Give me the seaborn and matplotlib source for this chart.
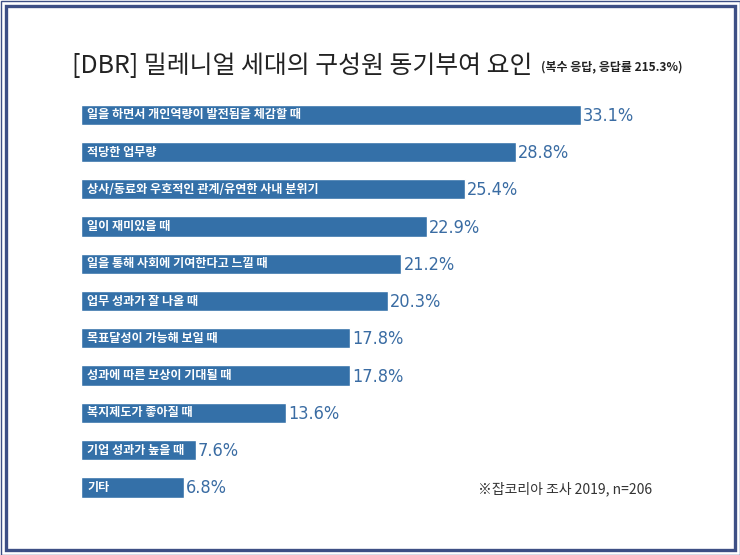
import matplotlib
matplotlib.use("Agg")
import matplotlib.pyplot as plt
from matplotlib.patches import Rectangle
import pandas as pd
import seaborn as sns

# Data
factors = [
    "일을 하면서 개인역량이 발전됨을 체감할 때",
    "적당한 업무량",
    "상사/동료와 우호적인 관계/유연한 사내 분위기",
    "일이 재미있을 때",
    "일을 통해 사회에 기여한다고 느낄 때",
    "업무 성과가 잘 나올 때",
    "목표달성이 가능해 보일 때",
    "성과에 따른 보상이 기대될 때",
    "복지제도가 좋아질 때",
    "기업 성과가 높을 때",
    "기타",
]
shares = [33.1, 28.8, 25.4, 22.9, 21.2, 20.3, 17.8, 17.8, 13.6, 7.6, 6.8]

TITLE = "[DBR] 밀레니얼 세대의 구성원 동기부여 요인"
SUBTITLE = "(복수 응답, 응답률 215.3%)"
SOURCE = "※잡코리아 조사 2019, n=206"

BAR_COLOR = "#3470a8"
VALUE_COLOR = "#3a6ca3"
FRAME_COLOR = "#3d4f85"

sns.set_theme(style="white")
plt.rcParams["font.family"] = ["Noto Sans CJK KR", "DejaVu Sans"]

df = pd.DataFrame({"factor": factors, "share": shares})

W, H = 740, 555
fig = plt.figure(figsize=(W / 100, H / 100), dpi=100)
fig.patch.set_facecolor("white")

# bars start at x=81px, 15.1 px per percent, rows 37.25 px apart
px_per_pct = 15.1
ax = fig.add_axes([81 / W, 0.0885, 1 - 81 / W, 0.7383])
sns.barplot(data=df, y="factor", x="share", orient="h", color=BAR_COLOR,
            saturation=1, width=0.55, ax=ax)
ax.set_xlim(0, (W - 81) / px_per_pct)
ax.set_ylim(len(factors) - 0.5, -0.5)
ax.axis("off")

for i, (name, val) in enumerate(zip(factors, shares)):
    ax.text(0.4, i, name, color="white", fontsize=8.7, fontweight="bold",
            va="center", ha="left")
    ax.text(val + 0.15, i + 0.03, f"{val:.1f}%", color=VALUE_COLOR, fontsize=13,
            va="center", ha="left", family="DejaVu Sans", fontstretch="condensed")

# title + subtitle
title = fig.text(72 / W, 1 - 66 / H, TITLE, fontsize=17.9, fontweight="light",
                 color="#222222", va="center", ha="left")
ax.annotate(SUBTITLE, xy=(1, 0), xycoords=title, xytext=(6, 4),
            textcoords="offset points", fontsize=8.6, fontweight="bold",
            color="#222222", va="bottom", ha="left", annotation_clip=False)

# source note
fig.text(478 / W, 1 - 489 / H, SOURCE, fontsize=10, color="#333333",
         va="center", ha="left")

# double frame
fig.patches.append(Rectangle((0.5 / W, 0.5 / H), 1 - 1 / W, 1 - 1 / H,
                             transform=fig.transFigure, fill=False,
                             edgecolor=FRAME_COLOR, linewidth=1.0))
fig.patches.append(Rectangle((5.5 / W, 5.5 / H), 1 - 11 / W, 1 - 11 / H,
                             transform=fig.transFigure, fill=False,
                             edgecolor=FRAME_COLOR, linewidth=2.4))

fig.savefig("out.png", dpi=100, facecolor="white")
